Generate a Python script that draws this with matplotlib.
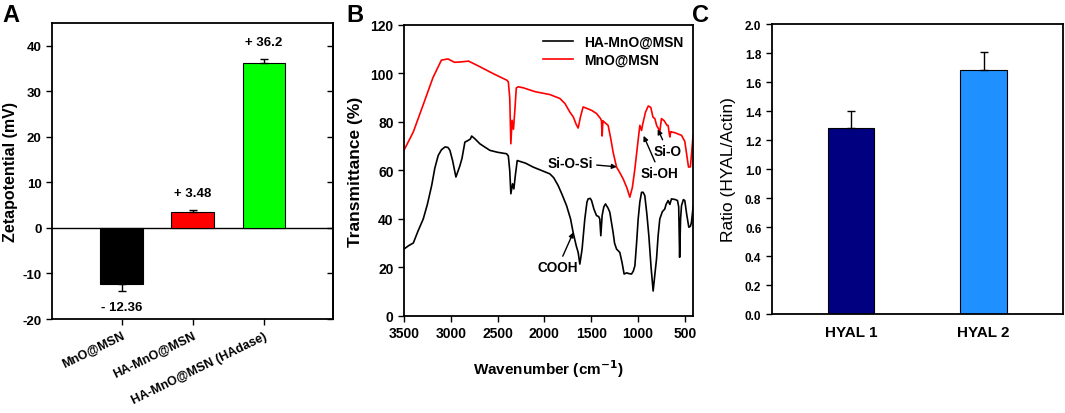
import numpy as np
import matplotlib
matplotlib.use("Agg")
import matplotlib.pyplot as plt

plt.rcParams['font.family'] = ['Liberation Sans', 'DejaVu Sans']
plt.rcParams['font.weight'] = 'bold'
plt.rcParams['axes.labelweight'] = 'bold'
plt.rcParams['axes.unicode_minus'] = False
plt.rcParams['mathtext.default'] = 'bf'

# --- A: zeta potential
zeta_names = ['MnO@MSN', 'HA-MnO@MSN', 'HA-MnO@MSN (HAdase)']
zeta_vals = [-12.36, 3.48, 36.2]
zeta_err = [1.4, 0.5, 1.0]
zeta_text = ['- 12.36', '+ 3.48', '+ 36.2']
zeta_cols = ['#000000', '#ff0000', '#00ff00']

# --- B: FTIR spectra
red_wn = [3500, 3400, 3300, 3190, 3100, 3030, 2960, 2880, 2810, 2690, 2550, 2400,
          2385, 2370, 2358, 2345, 2330, 2315, 2300, 2280, 2226, 2100, 1941, 1835,
          1780, 1728, 1690, 1660, 1639, 1615, 1586, 1540, 1496, 1443, 1400, 1390,
          1383, 1375, 1362, 1319, 1290, 1266, 1229, 1200, 1159, 1120, 1087, 1060,
          1033, 1000, 980, 962, 950, 920, 890, 863, 840, 820, 800, 785,
          767, 749, 720, 690, 678, 665, 660, 650, 642, 600, 570, 535,
          500, 470, 460, 440, 411]
red_T = [68.3, 75.9, 86.5, 98.3, 105.5, 106.0, 104.6, 104.8, 105.1, 102.8, 100.0, 97.2,
         96.5, 90.0, 71.0, 80.7, 77.0, 85.0, 94.0, 94.5, 94.1, 92.5, 91.3, 89.7,
         87.6, 84.1, 82.0, 79.0, 77.5, 82.0, 86.2, 85.5, 84.8, 83.5, 81.4, 80.5,
         74.2, 80.5, 80.0, 78.6, 73.0, 67.6, 61.4, 59.5, 56.6, 53.0, 49.0, 53.0,
         60.7, 72.0, 78.6, 76.5, 79.0, 84.0, 86.6, 86.0, 82.0, 81.4, 78.5, 77.5,
         76.0, 81.4, 80.5, 78.6, 78.6, 75.0, 73.8, 76.0, 75.9, 75.5, 75.0, 74.5,
         72.0, 64.0, 61.4, 61.5, 74.5]

blk_wn = [3500, 3450, 3400, 3350, 3294, 3250, 3204, 3170, 3134, 3100, 3062, 3030,
          3009, 2980, 2945, 2920, 2902, 2880, 2849, 2814, 2790, 2777, 2740, 2689,
          2630, 2582, 2500, 2404, 2385, 2370, 2358, 2340, 2326, 2310, 2290, 2200,
          2120, 2030, 1941, 1900, 1853, 1810, 1763, 1720, 1693, 1660, 1639, 1621,
          1597, 1568, 1545, 1532, 1510, 1496, 1470, 1443, 1420, 1408, 1397, 1383,
          1365, 1347, 1320, 1301, 1285, 1266, 1250, 1229, 1194, 1170, 1148, 1120,
          1100, 1069, 1050, 1033, 1015, 998, 980, 962, 945, 927, 905, 884,
          860, 838, 820, 802, 785, 767, 740, 714, 700, 678, 660, 642,
          600, 578, 565, 555, 545, 535, 515, 500, 480, 457, 440, 429, 411]
blk_T = [27.6, 29.0, 30.1, 35.0, 40.0, 46.0, 53.8, 61.0, 66.2, 68.5, 69.7, 69.5,
         68.3, 64.0, 57.3, 60.0, 62.0, 65.0, 71.7, 72.4, 73.0, 74.2, 73.0, 71.0,
         69.5, 68.3, 67.5, 66.9, 66.0, 60.0, 50.4, 54.5, 52.4, 58.0, 64.1, 63.0,
         61.4, 60.0, 58.6, 57.0, 53.8, 50.0, 45.5, 40.0, 34.5, 29.0, 26.2, 21.4,
         27.6, 40.0, 47.0, 48.3, 48.5, 47.6, 44.0, 41.4, 41.0, 40.0, 33.1, 41.4,
         45.0, 46.2, 44.5, 42.8, 39.0, 34.5, 30.0, 27.6, 26.2, 22.0, 17.3, 17.8,
         17.5, 17.3, 18.5, 20.7, 30.0, 40.0, 47.0, 51.0, 51.0, 49.6, 42.0, 33.1,
         20.0, 10.3, 17.0, 23.5, 33.0, 40.0, 43.0, 44.1, 46.0, 47.6, 46.0, 48.3,
         48.0, 47.6, 45.0, 24.2, 40.0, 45.5, 48.0, 47.6, 42.0, 36.6, 37.0, 38.6, 45.0]

# band labels: text, arrow tip (wn, T), text position (wn, T)
bands = ['COOH', 'Si-O-Si', 'Si-OH', 'Si-O']
band_tip = [(1690, 34.5), (1226, 61.5), (940, 74.3), (789, 77.0)]
band_txt = [(1856, 20.1), (1728, 63.2), (767, 59.0), (682, 68.1)]

# --- C: HYAL expression
hyal_names = ['HYAL 1', 'HYAL 2']
hyal_vals = [1.28, 1.68]
hyal_err = [0.12, 0.13]
hyal_cols = ['#000080', '#1e90ff']

fig = plt.figure(figsize=(10.65, 4.14), dpi=100)
axA = fig.add_axes([0.0488, 0.227, 0.2638, 0.715])
axB = fig.add_axes([0.3793, 0.2343, 0.2716, 0.703])
axC = fig.add_axes([0.7246, 0.2391, 0.2735, 0.7005])

for ax in (axA, axB, axC):
    for s in ax.spines.values():
        s.set_linewidth(1.3)
    ax.tick_params(width=1.0, length=4)

# A
xa = np.arange(len(zeta_vals))
va = np.array(zeta_vals)
ea = np.array(zeta_err)
axA.bar(xa, va, width=0.6, color=zeta_cols, edgecolor='black', linewidth=0.8, zorder=3)
axA.errorbar(xa, va, yerr=[np.where(va < 0, ea, 0), np.where(va > 0, ea, 0)],
             fmt='none', ecolor='black', elinewidth=1, capsize=3, capthick=1, zorder=4)
axA.axhline(0, color='black', lw=1, zorder=2)
for x, v, e, t in zip(xa, va, ea, zeta_text):
    off = 12 if v > 0 else -12
    axA.annotate(t, (x, v + np.sign(v) * e), xytext=(0, off), textcoords='offset points',
                 ha='center', va='center', fontsize=9.5, fontweight='bold')
axA.set_xlim(-0.98, 2.97)
axA.set_ylim(-20, 45)
axA.set_yticks(range(-20, 41, 10))
axA.set_xticks(xa)
axA.set_xticklabels(zeta_names, rotation=26, ha='right', rotation_mode='anchor', fontsize=9)
axA.tick_params(axis='y', labelsize=9.5)
axA.set_ylabel('Zetapotential (mV)', fontsize=11.5, labelpad=3)
sec = axA.secondary_yaxis('right')
sec.set_yticks(range(-20, 41, 10))
sec.tick_params(direction='in', labelright=False, width=1.0, length=4)
sec.spines['right'].set_linewidth(1.3)

# B
axB.plot(blk_wn, blk_T, color='black', lw=1.2, label='HA-MnO@MSN')
axB.plot(red_wn, red_T, color='red', lw=1.2, label='MnO@MSN')
axB.set_xlim(3500, 410)
axB.set_ylim(0, 120)
axB.set_xticks(range(3500, 400, -500))
axB.set_yticks(range(0, 121, 20))
axB.tick_params(labelsize=10)
axB.set_xlabel('Wavenumber (cm$^{-1}$)', fontsize=11, labelpad=12)
axB.set_ylabel('Transmittance (%)', fontsize=12.5, labelpad=5)
axB.legend(loc='upper right', frameon=False, fontsize=10, handlelength=2.2,
           borderaxespad=0.3, labelspacing=0.3)
for name, tip, pos in zip(bands, band_tip, band_txt):
    axB.annotate(name, tip, xytext=pos, ha='center', va='center', fontsize=9.8,
                 fontweight='bold',
                 arrowprops=dict(arrowstyle='-|>', color='black', lw=1,
                                 mutation_scale=7, shrinkA=1, shrinkB=0))

# C
xc = np.arange(len(hyal_vals))
axC.bar(xc, hyal_vals, width=0.35, color=hyal_cols, edgecolor='black', linewidth=0.8,
        yerr=[np.zeros(len(hyal_err)), hyal_err], error_kw=dict(elinewidth=1, capsize=3, capthick=1))
axC.set_xlim(-0.6, 1.6)
axC.set_ylim(0, 2.0)
axC.set_yticks(np.arange(0, 2.01, 0.2))
axC.set_yticklabels(['%.1f' % v for v in np.arange(0, 2.01, 0.2)])
axC.set_xticks(xc)
axC.set_xticklabels(hyal_names, fontsize=11)
axC.tick_params(axis='x', length=0, pad=8)
axC.tick_params(axis='y', labelsize=8.5)
axC.set_ylabel('Ratio (HYAL/Actin)', fontsize=12.5, fontweight='normal', labelpad=6)

fig.text(0.002, 0.99, 'A', fontsize=17, fontweight='bold', va='top')
fig.text(0.325, 0.99, 'B', fontsize=17, fontweight='bold', va='top')
fig.text(0.650, 0.99, 'C', fontsize=17, fontweight='bold', va='top')

fig.savefig('out.png', dpi=100)
